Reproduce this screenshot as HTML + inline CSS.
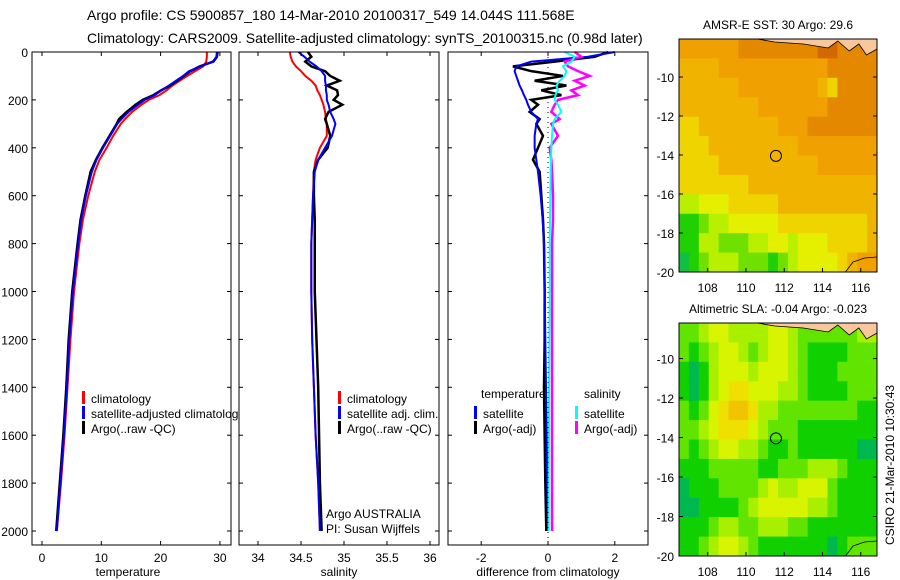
<!DOCTYPE html>
<html><head><meta charset="utf-8">
<style>
body{margin:0;background:#fff;}
svg{display:block;font-family:"Liberation Sans",sans-serif;}
</style></head>
<body>
<svg id="chart" width="900" height="580" viewBox="0 0 900 580" xmlns="http://www.w3.org/2000/svg">
<text x="87" y="20" font-size="14">Argo profile: CS 5900857_180 14-Mar-2010 20100317_549 14.044S 111.568E</text>
<text x="87" y="43" font-size="14">Climatology: CARS2009. Satellite-adjusted climatology: synTS_20100315.nc (0.98d later)</text>
<g id="g"></g>
</svg>
<script>
// ---- profile data ----
const depths = [0,20,40,60,80,100,120,140,160,180,200,220,250,280,300,350,400,450,500,600,700,800,1000,1200,1400,1600,1800,2000];
const tempClim = [27.8,27.8,27.7,27.2,25.8,24.5,23.2,22.0,21.0,19.8,18.0,16.8,15.2,14.0,13.3,12.0,10.9,9.7,8.9,7.8,6.9,6.3,5.4,4.8,4.3,3.8,3.2,2.5];
const tempSat = [29.5,29.4,28.8,26.8,24.8,23.8,22.6,21.4,20.2,19.0,17.3,16.2,14.6,13.4,12.7,11.5,10.3,9.2,8.4,7.4,6.6,6.1,5.2,4.6,4.2,3.7,3.1,2.5];
const tempArgo = [29.6,29.5,28.9,26.6,25.0,23.9,22.8,21.6,20.1,18.8,17.0,15.8,14.3,13.0,12.6,11.4,10.2,9.1,8.2,7.3,6.5,6.0,5.1,4.5,4.1,3.6,3.0,2.4];
const salClim = [34.37,34.38,34.40,34.44,34.50,34.55,34.62,34.67,34.69,34.72,34.74,34.76,34.78,34.79,34.80,34.80,34.72,34.67,34.65,34.64,34.63,34.62,34.62,34.63,34.65,34.67,34.70,34.72];
const salSat = [34.47,34.54,34.60,34.68,34.74,34.78,34.78,34.79,34.79,34.80,34.80,34.82,34.84,34.88,34.90,34.86,34.78,34.70,34.66,34.64,34.63,34.62,34.62,34.63,34.65,34.67,34.70,34.72];
const salArgo = [34.58,34.62,34.55,34.62,34.78,34.84,34.95,34.80,34.92,34.93,34.88,34.98,34.82,34.78,34.80,34.84,34.81,34.70,34.65,34.65,34.66,34.66,34.66,34.68,34.70,34.71,34.72,34.74];
const dTempSat = [2.0,1.2,-0.5,-0.95,-1.0,-0.95,-0.9,-0.85,-0.78,-0.72,-0.65,-0.6,-0.5,-0.3,-0.35,-0.4,-0.4,-0.35,-0.3,-0.22,-0.16,-0.12,-0.1,-0.08,-0.06,-0.04,-0.02,0.0];
const dTempArgo = [1.8,1.4,0.2,-1.05,-0.5,0.45,-0.4,0.55,-0.2,0.4,-0.5,-0.3,-0.55,-0.25,-0.35,-0.15,-0.3,-0.45,-0.25,-0.2,-0.15,-0.12,-0.1,-0.1,-0.12,-0.1,-0.08,-0.05];
const dSalSat = [0.5,0.8,0.7,0.45,0.55,0.5,0.35,0.25,0.3,0.22,0.2,0.3,0.4,0.2,0.15,0.12,0.1,0.09,0.08,0.07,0.06,0.05,0.05,0.04,0.03,0.03,0.02,0.02];
const dSalArgo = [0.8,1.0,0.5,0.6,0.9,1.25,0.8,1.1,0.7,0.9,0.3,0.2,0.1,0.35,0.1,0.3,0.05,0.1,0.12,0.15,0.15,0.12,0.12,0.12,0.12,0.12,0.12,0.12];
const depthTicks = [0,200,400,600,800,1000,1200,1400,1600,1800,2000];
const tempTicks = [0,10,20,30];
const salTicks = [34,34.5,35,35.5,36];
const diffTicks = [-2,0,2];
// ---- map data ----
const lonTicks = [108,110,112,114,116];
const latTicks = [-10,-12,-14,-16,-18,-20];
const argoPos = [111.568,-14.044];
const sstGrid = [
[7,7,7,7,7,7,8,8,8,8,8,8,8,8,9,9,8,8,8,8],
[6,6,6,6,7,7,7,7,7,7,7,7,7,7,7,8,8,8,8,8],
[6,6,6,6,6,6,7,7,7,7,7,7,7,7,6,5,8,8,8,8],
[6,6,6,6,6,6,6,6,7,7,7,7,7,7,7,8,8,8,8,8],
[5,5,6,6,6,6,6,6,6,6,7,7,7,8,8,8,8,8,8,8],
[5,5,5,6,6,6,6,6,6,6,6,6,7,7,7,7,7,7,7,7],
[5,5,5,5,6,6,6,6,6,6,6,6,6,6,7,7,7,7,7,7],
[5,5,5,5,5,5,5,6,6,6,6,6,6,6,6,6,6,6,6,6],
[3,3,4,4,4,5,5,5,5,5,6,6,6,6,6,6,6,6,6,6],
[1,1,2,3,3,4,4,4,4,4,5,5,5,5,5,5,5,5,5,6],
[1,1,3,3,2,2,2,3,3,4,4,3,4,4,4,5,5,5,5,6],
[0,1,2,3,3,3,2,2,2,1,2,3,4,4,4,4,5,6,7,7]];
const slaGrid = [
[2,2,3,4,4,3,3,3,3,4,4,3,2,2,2,2,2,2,3,3],
[2,1,2,3,4,4,3,2,3,4,4,3,2,1,1,1,1,2,2,2],
[1,0,1,3,4,4,4,3,4,4,4,3,2,1,1,1,2,2,2,2],
[1,0,1,3,4,5,5,4,4,4,3,3,2,1,1,1,1,2,2,2],
[2,1,2,4,5,6,6,5,3,3,2,2,2,2,2,2,2,2,1,1],
[2,2,3,4,5,5,5,4,3,2,2,2,1,1,1,1,1,1,1,1],
[2,1,2,3,4,4,3,3,2,1,1,2,1,1,1,1,1,1,0,0],
[1,1,1,2,2,2,2,2,1,1,2,2,2,3,3,3,2,1,1,1],
[0,1,1,1,2,2,2,2,3,4,3,3,4,4,4,2,1,1,1,1],
[0,0,1,1,1,1,2,3,4,4,4,4,4,3,3,2,1,1,1,1],
[1,1,1,2,3,3,2,2,3,3,3,2,2,1,1,1,1,1,1,1],
[1,1,2,3,4,4,3,2,1,1,1,1,1,1,1,0,1,2,2,2]];
const sstColors = ['#10c040','#20d000','#70e000','#b8f000','#e4f000','#f0d400','#f0b400','#f0a000','#e48800','#d46800'];
const slaColors = ['#00b850','#10d000','#60e400','#a8f000','#d8f400','#f0e000','#f0c400'];

const NS='http://www.w3.org/2000/svg';
const G=document.getElementById('g');
function mk(tag,attrs,parent){const e=document.createElementNS(NS,tag);for(const k in attrs)e.setAttribute(k,attrs[k]);(parent||G).appendChild(e);return e;}
function txt(s,x,y,opt,parent){const t=mk('text',Object.assign({x:x,y:y,'font-size':12},opt||{}),parent);t.textContent=s;return t;}

const PT=52, PB=545;
const yD = d => 52 + d*0.2395;
function panel(name,x0,x1,xs,ticks,fmt,label,lx,series,showY){
  const g=mk('g',{});
  
  
  mk('rect',{x:x0,y:PT,width:x1-x0,height:PB-PT,fill:'#fff',stroke:'none'},g);
  const cg=mk('g',{},g);
  series.forEach(s=>{
    const p=mk('polyline',{points:s.v.map((v,i)=>xs(v)+','+yD(depths[i])).join(' '),fill:'none',stroke:s.c,'stroke-width':s.w||2},cg);
    if(s.dash) p.setAttribute('stroke-dasharray',s.dash);
    
    
  });
  mk('rect',{x:x0,y:PT,width:x1-x0,height:PB-PT,fill:'none',stroke:'#000','stroke-width':1},g);
  ticks.forEach(t=>{const x=xs(t);
    mk('line',{x1:x,y1:PB,x2:x,y2:PB-4,stroke:'#000'},g);
    mk('line',{x1:x,y1:PT,x2:x,y2:PT+4,stroke:'#000'},g);
    const tl=txt(fmt(t),x,562,{'text-anchor':'middle'},g);
    
    
  });
  depthTicks.forEach(d=>{const y=yD(d);
    mk('line',{x1:x0,y1:y,x2:x0+4,y2:y,stroke:'#000'},g);
    mk('line',{x1:x1,y1:y,x2:x1-4,y2:y,stroke:'#000'},g);
    if(showY){const tl=txt(String(d),x0-4,y+5,{'text-anchor':'end'},g);
      
      }
  });
  const al=txt(label,lx,576,{'text-anchor':'middle'},g);
  
  
  return g;
}
function legend(g,x,items){
  items.forEach((it,i)=>{const y=398+i*15;
    mk('rect',{x:x,y:y-7,width:3,height:13,fill:it.c},g);
    const t=txt(it.t,x+9,y+5,{},g);
    
    
  });
}
const xT=v=>42+v*5.93;
const p1=panel('temperature-panel',32,231,xT,tempTicks,String,'temperature',128,[
 {v:tempClim,c:'#f00',n:'temp-climatology-line'},{v:tempArgo,c:'#000',n:'temp-argo-line',w:2.5},{v:tempSat,c:'#00f',n:'temp-satellite-line'}],true);
legend(p1,82,[{c:'#f00',t:'climatology'},{c:'#00f',t:'satellite-adjusted climatology'},{c:'#000',t:'Argo(..raw -QC)'}]);
const xS=v=>258+(v-34)*86;
const p2=panel('salinity-panel',239,439,xS,salTicks,String,'salinity',339,[
 {v:salClim,c:'#f00',n:'sal-climatology-line'},{v:salArgo,c:'#000',n:'sal-argo-line',w:2.5},{v:salSat,c:'#00f',n:'sal-satellite-line'}],false);
legend(p2,338,[{c:'#f00',t:'climatology'},{c:'#00f',t:'satellite adj. clim.'},{c:'#000',t:'Argo(..raw -QC)'}]);
let t1=txt('Argo AUSTRALIA',326,518,{},p2);
let t2=txt('PI: Susan Wijffels',326,533,{},p2);
const xDf=v=>548+v*33.4;
const p3=panel('difference-panel',448,648,xDf,diffTicks,String,'difference from climatology',548,[
 {v:dTempArgo,c:'#000',n:'dtemp-argo-line',w:2.5},{v:dTempSat,c:'#00f',n:'dtemp-satellite-line'},
 {v:dSalArgo,c:'#f0f',n:'dsal-argo-line',w:2.5},{v:dSalSat,c:'#0ff',n:'dsal-satellite-line'}],false);
mk('line',{x1:xDf(0),y1:PT,x2:xDf(0),y2:PB,stroke:'#000','stroke-dasharray':'1,4'},p3);
let lt=txt('temperature',481,398,{},p3);
let ls=txt('salinity',584,398,{},p3);
[[474,'#00f','satellite',413],[474,'#000','Argo(-adj)',428],[575,'#0ff','satellite',413],[575,'#f0f','Argo(-adj)',428]].forEach(a=>{
  mk('rect',{x:a[0],y:a[3]-7,width:3,height:13,fill:a[1]},p3);
  const t=txt(a[2],a[0]+9,a[3]+5,{},p3);
  
  
});

// ---- maps ----
function map(name,top,grid,colors,title,latTop){
  const g=mk('g',{});
  
  
  const L=679,R=877,B=top+233;
  const xL=lon=>679+(lon-106.5)*((877-679)/(116.85-106.5));
  const yL=lat=>top+(latTop-lat)*((B-top)/(latTop+20));
  const rows=grid.length, cols=grid[0].length, cw=(R-L)/cols, rh=(B-top)/rows;
  grid.forEach((row,r)=>row.forEach((v,c)=>{
    mk('rect',{x:L+c*cw,y:top+r*rh,width:cw+0.5,height:rh+0.5,fill:colors[v]},g);
  }));
  const land=mk('path',{d:`M${xL(110.6)},${top} L${xL(111.5)},${top+3} L${xL(113)},${top+5} L${xL(114.3)},${top+9} L${xL(114.8)},${top+2} L${xL(115.4)},${top+12} L${xL(115.9)},${top+5} L${xL(116.3)},${top+16} L${xL(116.85)},${top+10} L${R},${top} Z`,fill:'#f8c89c',stroke:'#000','stroke-width':0.8},g);
  
  
  const cb=mk('path',{d:`M${xL(115.2)},${B} L${xL(115.6)},${B-10} L${xL(116.2)},${B-14} L${R},${B-15}`,fill:'none',stroke:'#000','stroke-width':0.8},g);
  
  
  const m=mk('circle',{cx:xL(argoPos[0]),cy:yL(argoPos[1]),r:5.5,fill:'none',stroke:'#000'},g);
  
  
  mk('rect',{x:L,y:top,width:R-L,height:B-top,fill:'none',stroke:'#000'},g);
  lonTicks.forEach(lon=>{const x=xL(lon);
    mk('line',{x1:x,y1:B,x2:x,y2:B-4,stroke:'#000'},g);
    const t=txt(String(lon),x,B+20,{'text-anchor':'middle'},g);
    
    });
  latTicks.forEach(lat=>{const y=yL(lat);
    mk('line',{x1:L,y1:y,x2:L+4,y2:y,stroke:'#000'},g);
    mk('line',{x1:R,y1:y,x2:R-4,y2:y,stroke:'#000'},g);
    const t=txt(String(lat),L-5,y+5,{'text-anchor':'end'},g);
    
    });
  const tt=txt(title,778,top-10,{'text-anchor':'middle'},g);
  
  
}
map('sst-map',39,sstGrid,sstColors,'AMSR-E SST: 30 Argo: 29.6',-8.05);
map('sla-map',323,slaGrid,slaColors,'Altimetric SLA: -0.04 Argo: -0.023',-8.2);
const stamp=txt('CSIRO 21-Mar-2010 10:30:43',0,0,{transform:'translate(894,465) rotate(-90)','text-anchor':'middle'});


</script>
</body></html>
